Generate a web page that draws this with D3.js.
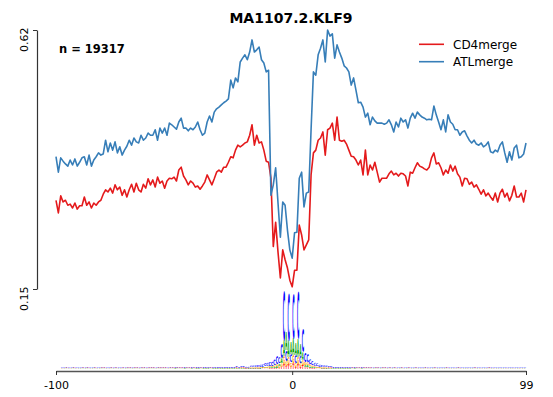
<!DOCTYPE html>
<html>
<head>
<meta charset="utf-8">
<script src="https://cdn.jsdelivr.net/npm/d3@7"></script>
<style>
  body { margin: 0; background: #fff; }
  svg { display: block; }
</style>
</head>
<body>
<div id="chart"></div>
<script>
// positions around the motif centre
var positions = d3.range(-100, 100);
var xTicks = [-100, 0, 99];
var yTicks = [0.15, 0.62];
var seriesNames = ["CD4merge", "ATLmerge"];

var cd4 = [
  0.311,0.288,0.319,0.308,0.311,0.302,0.304,0.297,0.306,0.295,
  0.301,0.301,0.317,0.302,0.308,0.297,0.306,0.302,0.308,0.311,
  0.322,0.330,0.326,0.333,0.324,0.339,0.330,0.335,0.320,0.330,
  0.317,0.330,0.340,0.326,0.342,0.330,0.326,0.340,0.333,0.350,
  0.339,0.348,0.335,0.353,0.342,0.346,0.333,0.346,0.351,0.350,
  0.353,0.346,0.366,0.371,0.355,0.348,0.339,0.346,0.342,0.335,
  0.337,0.331,0.337,0.344,0.357,0.348,0.339,0.350,0.362,0.366,
  0.362,0.371,0.371,0.380,0.390,0.388,0.402,0.411,0.408,0.411,
  0.415,0.417,0.429,0.448,0.411,0.429,0.415,0.417,0.402,0.382,
  0.380,0.351,0.227,0.271,0.217,0.170,0.221,0.203,0.188,0.166,
  0.154,0.184,0.184,0.266,0.248,0.221,0.230,0.239,0.357,0.397,
  0.402,0.420,0.424,0.435,0.393,0.439,0.442,0.451,0.420,0.462,
  0.420,0.418,0.420,0.413,0.402,0.391,0.390,0.384,0.375,0.384,
  0.357,0.402,0.357,0.375,0.366,0.380,0.362,0.344,0.351,0.351,
  0.351,0.359,0.364,0.357,0.360,0.355,0.360,0.359,0.355,0.337,
  0.362,0.360,0.370,0.379,0.373,0.371,0.368,0.366,0.371,0.388,
  0.397,0.377,0.379,0.370,0.357,0.366,0.360,0.375,0.364,0.373,
  0.359,0.353,0.337,0.351,0.350,0.340,0.344,0.335,0.339,0.331,
  0.322,0.330,0.319,0.324,0.317,0.311,0.324,0.308,0.324,0.331,
  0.317,0.324,0.310,0.320,0.337,0.317,0.317,0.324,0.308,0.330
];

var atl = [
  0.390,0.362,0.388,0.382,0.377,0.373,0.384,0.375,0.386,0.373,
  0.380,0.388,0.390,0.375,0.393,0.373,0.384,0.390,0.397,0.393,
  0.395,0.420,0.399,0.415,0.402,0.417,0.397,0.408,0.393,0.402,
  0.409,0.420,0.411,0.424,0.417,0.415,0.429,0.420,0.424,0.433,
  0.429,0.429,0.439,0.420,0.442,0.433,0.442,0.429,0.451,0.448,
  0.444,0.440,0.453,0.460,0.442,0.442,0.437,0.442,0.439,0.444,
  0.453,0.439,0.429,0.433,0.453,0.464,0.453,0.471,0.477,0.480,
  0.484,0.488,0.491,0.495,0.529,0.515,0.533,0.526,0.562,0.569,
  0.575,0.566,0.580,0.602,0.580,0.584,0.589,0.566,0.560,0.544,
  0.547,0.320,0.339,0.370,0.306,0.244,0.308,0.302,0.257,0.221,
  0.206,0.252,0.253,0.351,0.362,0.299,0.324,0.326,0.439,0.544,
  0.538,0.575,0.587,0.602,0.562,0.620,0.609,0.613,0.569,0.593,
  0.580,0.569,0.555,0.551,0.544,0.520,0.533,0.511,0.488,0.489,
  0.480,0.462,0.469,0.448,0.462,0.455,0.451,0.451,0.451,0.449,
  0.451,0.457,0.448,0.435,0.453,0.444,0.460,0.453,0.457,0.442,
  0.460,0.469,0.460,0.471,0.466,0.462,0.460,0.457,0.458,0.457,
  0.482,0.466,0.453,0.439,0.457,0.435,0.466,0.453,0.449,0.439,
  0.439,0.429,0.435,0.437,0.428,0.420,0.415,0.420,0.413,0.411,
  0.415,0.408,0.411,0.417,0.399,0.397,0.402,0.399,0.411,0.417,
  0.397,0.380,0.399,0.384,0.406,0.411,0.388,0.390,0.395,0.415
];

// sequence logo (bits) around the centre
var corePos = [-20,-19,-18,-17,-16,-15,-14,-13,-12,-11,-10,-9,-8,-7,-6,-5,-4,-3,-2,-1,
                0,1,2,3,4,5,6,7,8,9,10,11,12,13,14];
var coreC = [0.03,0.03,0.035,0.04,0.045,0.05,0.06,0.065,0.075,0.085,0.10,0.11,0.14,0.20,0.15,0.38,1.25,0.28,1.20,0.20,
             1.12,0.20,1.20,0.18,0.60,0.22,0.20,0.12,0.10,0.085,0.07,0.06,0.05,0.045,0.04];
var coreA = [0.01,0.012,0.012,0.012,0.015,0.015,0.018,0.018,0.02,0.022,0.025,0.03,0.035,0.05,0.06,0.12,0.40,0.45,0.42,0.30,
             0.42,0.30,0.45,0.28,0.20,0.06,0.05,0.04,0.03,0.025,0.02,0.02,0.015,0.012,0.012];
var coreG = [0.015,0.015,0.018,0.018,0.02,0.02,0.022,0.025,0.028,0.03,0.03,0.035,0.04,0.05,0.05,0.09,0.20,0.12,0.18,0.10,
             0.20,0.10,0.18,0.09,0.12,0.08,0.07,0.05,0.04,0.035,0.03,0.025,0.02,0.02,0.018];
var coreT = [0.01,0.01,0.01,0.01,0.012,0.012,0.012,0.015,0.015,0.015,0.018,0.02,0.02,0.03,0.03,0.06,0.12,0.07,0.12,0.06,
             0.14,0.05,0.12,0.05,0.10,0.04,0.04,0.03,0.02,0.02,0.015,0.015,0.012,0.01,0.01];

// flanks: total bits for -98..-21 and 15..98
var flankLeft = [
  0.03,0.03,0.04,0.03,0.03,0.04,0.03,0.03,0.03,0.04,
  0.03,0.04,0.03,0.03,0.04,0.03,0.03,0.04,0.04,0.03,
  0.03,0.04,0.03,0.04,0.03,0.03,0.04,0.03,0.04,0.04,
  0.03,0.04,0.04,0.03,0.04,0.04,0.03,0.04,0.04,0.04,
  0.03,0.04,0.04,0.04,0.04,0.03,0.04,0.04,0.05,0.04,
  0.04,0.04,0.05,0.04,0.04,0.05,0.04,0.05,0.05,0.04,
  0.05,0.05,0.05,0.04,0.05,0.05,0.06,0.05,0.05,0.06,
  0.06,0.05,0.06,0.06,0.07,0.06,0.07,0.07
];
var flankRight = [
  0.07,0.07,0.06,0.06,0.06,0.05,0.05,0.05,0.05,0.05,
  0.04,0.05,0.04,0.04,0.05,0.04,0.04,0.04,0.04,0.03,
  0.04,0.04,0.03,0.04,0.04,0.03,0.04,0.03,0.04,0.03,
  0.03,0.04,0.03,0.03,0.04,0.03,0.03,0.04,0.03,0.03,
  0.03,0.04,0.03,0.03,0.03,0.04,0.03,0.03,0.03,0.03,
  0.04,0.03,0.03,0.03,0.03,0.04,0.03,0.03,0.03,0.03,
  0.03,0.03,0.04,0.03,0.03,0.03,0.03,0.03,0.04,0.03,
  0.03,0.03,0.03,0.03,0.03,0.03,0.03,0.03,0.03,0.03,
  0.03,0.03,0.03,0.03
];
var flankMix = {A: 0.2, C: 0.4, G: 0.15, T: 0.25};

var width = 553, height = 397;
var colors = ["#e41a1c", "#377eb8"];
var letterColor = {A: "#00a000", C: "#0000ff", G: "#ffa500", T: "#ff0000"};
var font = "DejaVu Sans";

var svg = d3.select("#chart").append("svg")
    .attr("width", width)
    .attr("height", height)
    .style("background", "#fff");

/*
 * scales
 */
var x = d3.scaleLinear().domain([-100, 99]).range([56, 526]);
var y = d3.scaleLinear().domain([0.15, 0.62]).range([289, 30]);
var yLogo = d3.scaleLinear().domain([0, 2]).range([369, 289]);

/*
 * logo
 */
var cols = [];
corePos.forEach(function(p, j) {
    cols.push({p: p, A: coreA[j], C: coreC[j], G: coreG[j], T: coreT[j]});
});
flankLeft.forEach(function(b, k) {
    cols.push({p: -98 + k, A: b*flankMix.A, C: b*flankMix.C, G: b*flankMix.G, T: b*flankMix.T});
});
flankRight.forEach(function(b, k) {
    cols.push({p: 15 + k, A: b*flankMix.A, C: b*flankMix.C, G: b*flankMix.G, T: b*flankMix.T});
});

var ctx = document.createElement("canvas").getContext("2d");
ctx.font = "bold 100px '" + font + "'";
var box = {};
"ACGT".split("").forEach(function(L) {
    var m = ctx.measureText(L);
    box[L] = {l: m.actualBoundingBoxLeft, r: m.actualBoundingBoxRight,
              a: m.actualBoundingBoxAscent, d: m.actualBoundingBoxDescent};
});

var logo = svg.append("g");
cols.forEach(function(c) {
    var x0 = x(c.p), w = x(c.p + 1) - x(c.p);
    // smallest letter at the bottom, biggest on top
    var letters = ["A", "C", "G", "T"].sort(function(a, b) { return c[a] - c[b]; });
    var ycur = yLogo(0);
    letters.forEach(function(L) {
        var hp = yLogo(0) - yLogo(c[L]);
        if (hp < 0.2) return;
        var top = ycur - hp;
        var b = box[L];
        var sx = (w * 0.86) / (b.l + b.r), sy = hp / (b.a + b.d);
        logo.append("text")
            .attr("font-family", font)
            .attr("font-weight", "bold")
            .attr("font-size", 100)
            .attr("fill", letterColor[L])
            .attr("transform", "translate(" + (x0 + w * 0.07) + "," + top + ") scale(" + sx + "," + sy + ") translate(" + b.l + "," + b.a + ")")
            .text(L);
        ycur = top;
    });
});

/*
 * lines
 */
var line = d3.line()
    .x(function(d, i) { return x(positions[i]); })
    .y(function(d) { return y(d); });

[cd4, atl].forEach(function(s, k) {
    svg.append("path")
        .datum(s)
        .attr("fill", "none")
        .attr("stroke", colors[k])
        .attr("stroke-width", 1.6)
        .attr("stroke-linejoin", "round")
        .attr("d", line);
});

/*
 * axes
 */
var gx = svg.append("g")
    .attr("transform", "translate(0,371)")
    .call(d3.axisBottom(x).tickValues(xTicks).tickFormat(function(d) { return String(d); })
        .tickSize(4).tickSizeOuter(0));
gx.attr("font-family", font).attr("font-size", 11);
gx.select(".domain").attr("stroke", "#555").attr("stroke-width", 1.3);
gx.selectAll(".tick line").attr("stroke", "#333").attr("stroke-width", 1);
gx.selectAll(".tick text").attr("fill", "#000").attr("y", 10);

var gy = svg.append("g")
    .attr("transform", "translate(37,0)")
    .call(d3.axisLeft(y).tickValues(yTicks).tickFormat(d3.format(".2f"))
        .tickSize(4).tickSizeOuter(0));
gy.attr("font-family", font).attr("font-size", 11);
gy.select(".domain").attr("stroke", "#333").attr("stroke-width", 1.2);
gy.selectAll(".tick line").attr("stroke", "#333").attr("stroke-width", 1);
gy.selectAll(".tick text")
    .attr("fill", "#000")
    .attr("transform", "rotate(-90)")
    .attr("x", 3).attr("y", -9.5).attr("dy", 0)
    .attr("text-anchor", "end");

/*
 * texts
 */
svg.append("text")
    .attr("x", 291).attr("y", 22.5)
    .attr("text-anchor", "middle")
    .attr("font-family", font).attr("font-weight", "bold").attr("font-size", 14)
    .text("MA1107.2.KLF9");

svg.append("text")
    .attr("x", 59).attr("y", 53.3)
    .attr("font-family", font).attr("font-weight", "bold").attr("font-size", 11.5)
    .text("n = 19317");

var legend = svg.append("g");
seriesNames.forEach(function(name, k) {
    var ly = 44.3 + k * 17.4;
    legend.append("line")
        .attr("x1", 419).attr("x2", 444)
        .attr("y1", ly).attr("y2", ly)
        .attr("stroke", colors[k]).attr("stroke-width", 1.6);
    legend.append("text")
        .attr("x", 453).attr("y", ly + 4.6)
        .attr("font-family", font).attr("font-size", 12)
        .text(name);
});
</script>
</body>
</html>
